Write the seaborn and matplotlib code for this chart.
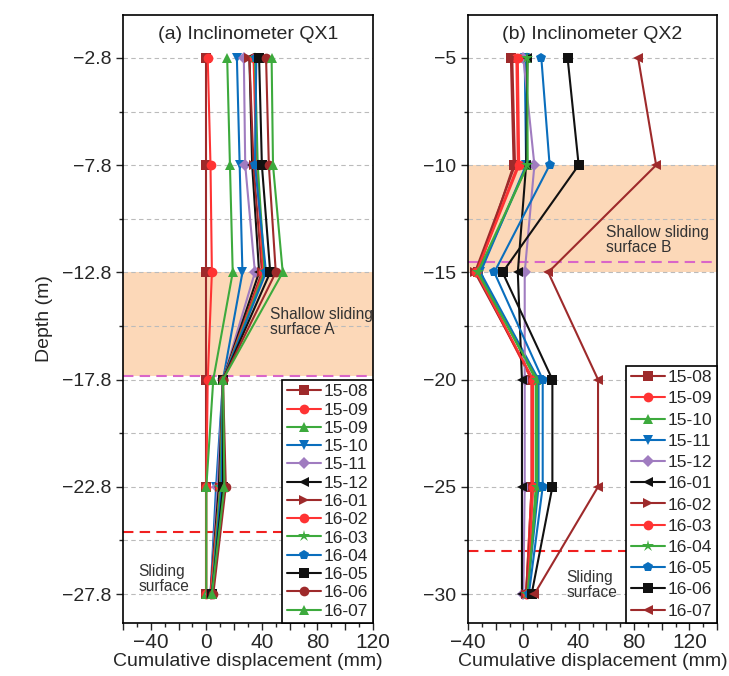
import numpy as np
import pandas as pd
import matplotlib
matplotlib.use("Agg")
import matplotlib.pyplot as plt
import seaborn as sns
from matplotlib.ticker import MultipleLocator, FuncFormatter, FixedLocator

sns.set_style("ticks")
plt.rcParams['font.family'] = ['Liberation Sans', 'DejaVu Sans']

# ---------------- data ----------------
depth_a = [-2.8, -7.8, -12.8, -17.8, -22.8, -27.8]
labels_a = ["15-08", "15-09", "15-09", "15-10", "15-11", "15-12", "16-01",
            "16-02", "16-03", "16-04", "16-05", "16-06", "16-07"]
a_1508 = [0, 0, 0, 0, 0, 0]
a_1509 = [1, 3, 4, 1, 0, 0]
a_1509b = [15, 17, 19, 5, 0, 0]
a_1510 = [22, 24, 26, 12, 7, 3]
a_1511 = [27, 28, 35, 12, 8, 3]
a_1512 = [31, 33, 38, 12, 9, 3]
a_1601 = [31, 34, 40, 12, 10, 3]
a_1602 = [34, 36, 41, 12, 10, 3]
a_1603 = [35, 37, 42, 12, 10, 4]
a_1604 = [36, 35, 43, 12, 11, 4]
a_1605 = [38, 40, 46, 12, 12, 4]
a_1606 = [43, 45, 50, 12, 14, 5]
a_1607 = [47, 48, 55, 12, 13, 4]
values_a = [a_1508, a_1509, a_1509b, a_1510, a_1511, a_1512, a_1601,
            a_1602, a_1603, a_1604, a_1605, a_1606, a_1607]

depth_b = [-5, -10, -15, -20, -25, -30]
labels_b = ["15-08", "15-09", "15-10", "15-11", "15-12", "16-01",
            "16-02", "16-03", "16-04", "16-05", "16-06", "16-07"]
b_1508 = [-9, -7, -33, 6, 6, 2]
b_1509 = [-5, -4, -34, 6, 6, 2]
b_1510 = [2, 3, -32, 9, 9, 3]
b_1511 = [1, 2, -31, 11, 11, 3]
b_1512 = [0, 8, 1, 1, 1, 0]
b_1601 = [3, 2, -4, -1, -1, -1]
b_1602 = [-8, -6, -35, 7, 7, 2]
b_1603 = [-4, -3, -34, 7, 7, 3]
b_1604 = [3, 3, -33, 10, 10, 3]
b_1605 = [13, 19, -21, 14, 14, 4]
b_1606 = [32, 40, -15, 21, 21, 6]
b_1607 = [83, 96, 18, 54, 54, 8]
values_b = [b_1508, b_1509, b_1510, b_1511, b_1512, b_1601,
            b_1602, b_1603, b_1604, b_1605, b_1606, b_1607]

ticks_a = [-2.8, -7.8, -12.8, -17.8, -22.8, -27.8]
ticks_b = [-5, -10, -15, -20, -25, -30]

# ---------------- styles ----------------
DR, RD, GR, BL, PU, BK = "#9E2A2B", "#FF3333", "#3DAA3D", "#0A6EBD", "#A07CC0", "#111111"
styles_a = [(DR, "s"), (RD, "o"), (GR, "^"), (BL, "v"), (PU, "D"), (BK, "<"),
            (DR, ">"), (RD, "o"), (GR, "*"), (BL, "p"), (BK, "s"), (DR, "o"), (GR, "^")]
styles_b = [(DR, "s"), (RD, "o"), (GR, "^"), (BL, "v"), (PU, "D"), (BK, "<"),
            (DR, ">"), (RD, "o"), (GR, "*"), (BL, "p"), (BK, "s"), (DR, "<")]

fig = plt.figure(figsize=(7.29, 6.76), dpi=100)
ax_a = fig.add_axes([123/729, 1-623/676, 250/729, 608/676])
ax_b = fig.add_axes([468/729, 1-623/676, 249/729, 608/676])

band_col = "#FCD8B8"


def draw(ax, depth, labels, values, styles, ticks, xlim, ylim):
    for lab, vals, (c, m) in zip(labels, values, styles):
        df = pd.DataFrame({"disp": vals, "depth": depth})
        ms = 9 if m == "*" else (6 if m == "D" else 7)
        sns.lineplot(data=df, x="disp", y="depth", sort=False, estimator=None,
                     ax=ax, color=c, marker=m, markersize=ms, markeredgewidth=0,
                     linewidth=1.5, label=lab, zorder=3)
    ax.set_xlim(*xlim)
    ax.set_ylim(*ylim)
    ax.yaxis.set_major_locator(FixedLocator(ticks))
    step = ticks[0] - ticks[1]
    minors = [t - step / 2 for t in ticks[:-1]]
    ax.yaxis.set_minor_locator(FixedLocator(minors))
    for t in ticks + minors:
        ax.axhline(t, color="#BBBBBB", lw=0.8, ls=(0, (4, 3)), zorder=1)
    ax.xaxis.set_major_locator(MultipleLocator(20))
    ax.xaxis.set_minor_locator(MultipleLocator(10))
    ax.xaxis.set_major_formatter(FuncFormatter(
        lambda v, p: (f"{int(v)}".replace("-", "\u2212") if abs(v) % 40 < 1e-6 else "")))
    ax.tick_params(axis="x", which="major", labelsize=15, length=5, width=1, pad=2)
    ax.tick_params(axis="y", which="major", labelsize=14, length=5, width=1)
    ax.tick_params(axis="both", which="minor", length=3, width=1)
    ax.set_xlabel("Cumulative displacement (mm)", fontsize=14, labelpad=1)
    ax.set_ylabel("")
    for s in ax.spines.values():
        s.set_linewidth(1.2)
        s.set_color("black")
        s.set_visible(True)


draw(ax_a, depth_a, labels_a, values_a, styles_a, ticks_a, (-60, 120), (-29.15, -0.8))
draw(ax_b, depth_b, labels_b, values_b, styles_b, ticks_b, (-40, 140), (-31.35, -3.0))

# bands and reference lines
ax_a.axhspan(-17.65, -12.8, color=band_col, zorder=0, lw=0)
ax_a.axhline(-17.65, color="#D966C8", lw=1.5, ls=(0, (5, 3)), zorder=2)
ax_a.axhline(-24.9, color="#F02020", lw=1.5, ls=(0, (5, 3)), zorder=2)
ax_b.axhspan(-15.0, -10.0, color=band_col, zorder=0, lw=0)
ax_b.axhline(-14.5, color="#D966C8", lw=1.5, ls=(0, (5, 3)), zorder=2)
ax_b.axhline(-28.0, color="#F02020", lw=1.5, ls=(0, (5, 3)), zorder=2)

ax_a.set_ylabel("Depth (m)", fontsize=14, labelpad=6)

ax_a.text(0.5, 0.968, "(a) Inclinometer QX1", transform=ax_a.transAxes,
          ha="center", va="center", fontsize=14)
ax_b.text(0.5, 0.968, "(b) Inclinometer QX2", transform=ax_b.transAxes,
          ha="center", va="center", fontsize=14)

ax_a.text(46, -15.1, "Shallow sliding\nsurface A", fontsize=11.2, color="#333333",
          ha="left", va="center", linespacing=1.0, zorder=4)
ax_a.text(-49, -27.1, "Sliding\nsurface", fontsize=11.2, color="#333333",
          ha="left", va="center", linespacing=1.0, zorder=4)
ax_b.text(60, -13.5, "Shallow sliding\nsurface B", fontsize=11.2, color="#333333",
          ha="left", va="center", linespacing=1.0, zorder=4)
ax_b.text(31, -29.6, "Sliding\nsurface", fontsize=11.2, color="#333333",
          ha="left", va="center", linespacing=1.0, zorder=4)

for ax, sp in ((ax_a, 0.18), (ax_b, 0.35)):
    h, l = ax.get_legend_handles_labels()
    leg = ax.legend(h, l, loc="lower right", borderaxespad=0, fontsize=12.5,
                    handlelength=2.0, handletextpad=0.15, labelspacing=sp,
                    borderpad=0.25, fancybox=False, framealpha=1, edgecolor="black")
    leg.get_frame().set_linewidth(1.2)
    leg.set_zorder(5)

fig.savefig("out.png", dpi=100)
